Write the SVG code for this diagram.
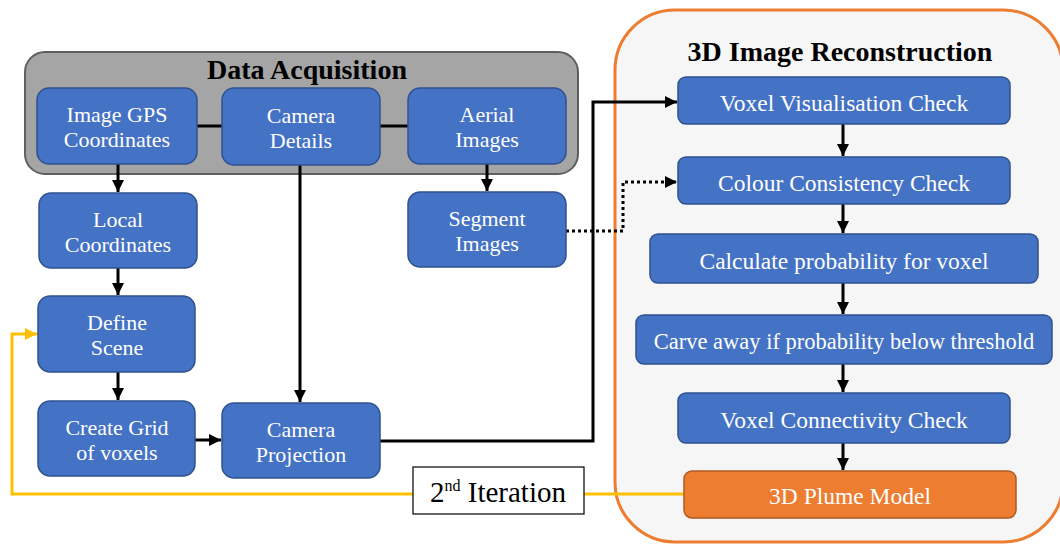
<svg xmlns="http://www.w3.org/2000/svg" width="1060" height="544" viewBox="0 0 1060 544">
<style>
.box{fill:#4472c4;stroke:#2f528f;stroke-width:1.5}
.obox{fill:#ed7d31;stroke:#ae5a21;stroke-width:1.5}
.t{font-family:'Liberation Serif','Times New Roman',serif;font-size:22px;fill:#fff;text-anchor:middle}
.r{font-size:23.5px}
.title{font-family:'Liberation Serif','Times New Roman',serif;font-size:28px;font-weight:bold;fill:#000;text-anchor:middle}
.it{font-family:'Liberation Serif','Times New Roman',serif;font-size:29px;fill:#000;text-anchor:middle}
.ln{fill:none;stroke:#000;stroke-width:3}
.dot{fill:none;stroke:#000;stroke-width:3;stroke-dasharray:3 3}
.yl{fill:none;stroke:#ffc000;stroke-width:3}
</style>
<defs>
<marker id="ah" viewBox="0 0 10 10" refX="10" refY="5" markerWidth="4" markerHeight="4" orient="auto"><path d="M0,0 L10,5 L0,10 z" fill="#000"/></marker>
<marker id="ay" viewBox="0 0 10 10" refX="10" refY="5" markerWidth="4" markerHeight="4" orient="auto"><path d="M0,0 L10,5 L0,10 z" fill="#ffc000"/></marker>
</defs>
<rect width="1060" height="544" fill="#fff"/>
<g id="reconstruction-group">
<rect x="615" y="10" width="448" height="532" rx="60" fill="#f6f6f6" stroke="#ed7d31" stroke-width="3"/>
<text class="title" x="840" y="61">3D Image Reconstruction</text>
</g>
<g id="acquisition-group">
<rect x="25" y="52" width="553" height="122" rx="20" fill="#a5a5a5" stroke="#5f5f5f" stroke-width="2"/>
<text class="title" x="307" y="79">Data Acquisition</text>
</g>
<g id="connectors">
<line class="ln" x1="197" y1="126" x2="222" y2="126"/>
<line class="ln" x1="380" y1="126" x2="408" y2="126"/>
<line class="ln" x1="118" y1="164" x2="118" y2="192" marker-end="url(#ah)"/>
<line class="ln" x1="118" y1="268" x2="118" y2="295" marker-end="url(#ah)"/>
<line class="ln" x1="118" y1="372" x2="118" y2="400" marker-end="url(#ah)"/>
<line class="ln" x1="195" y1="440" x2="221" y2="440" marker-end="url(#ah)"/>
<line class="ln" x1="300" y1="165" x2="300" y2="402" marker-end="url(#ah)"/>
<line class="ln" x1="487" y1="164" x2="487" y2="191" marker-end="url(#ah)"/>
<path class="ln" d="M380,441 H593 V102 H677" marker-end="url(#ah)"/>
<path class="dot" d="M566,231 H623 V182 H677" marker-end="url(#ah)"/>
<line class="ln" x1="843" y1="124" x2="843" y2="156" marker-end="url(#ah)"/>
<line class="ln" x1="843" y1="204" x2="843" y2="233" marker-end="url(#ah)"/>
<line class="ln" x1="843" y1="283" x2="843" y2="314" marker-end="url(#ah)"/>
<line class="ln" x1="843" y1="364" x2="843" y2="392" marker-end="url(#ah)"/>
<line class="ln" x1="843" y1="443" x2="843" y2="470" marker-end="url(#ah)"/>
<path class="yl" d="M684,494 H12 V334 H37" marker-end="url(#ay)"/>
</g>
<g id="image-gps"><rect class="box" x="37" y="88" width="160" height="76" rx="12"/><text class="t" x="117" y="122">Image GPS</text><text class="t" x="117" y="147">Coordinates</text></g>
<g id="camera-details"><rect class="box" x="222" y="88" width="158" height="77" rx="12"/><text class="t" x="301" y="123">Camera</text><text class="t" x="301" y="148">Details</text></g>
<g id="aerial-images"><rect class="box" x="408" y="88" width="158" height="76" rx="12"/><text class="t" x="487" y="122">Aerial</text><text class="t" x="487" y="147">Images</text></g>
<g id="local-coordinates"><rect class="box" x="39" y="193" width="158" height="75" rx="12"/><text class="t" x="118" y="227">Local</text><text class="t" x="118" y="252">Coordinates</text></g>
<g id="segment-images"><rect class="box" x="408" y="192" width="158" height="75" rx="12"/><text class="t" x="487" y="226">Segment</text><text class="t" x="487" y="251">Images</text></g>
<g id="define-scene"><rect class="box" x="38" y="296" width="157" height="76" rx="12"/><text class="t" x="117" y="330">Define</text><text class="t" x="117" y="355">Scene</text></g>
<g id="create-grid"><rect class="box" x="38" y="401" width="157" height="75" rx="12"/><text class="t" x="117" y="435">Create Grid</text><text class="t" x="117" y="460">of voxels</text></g>
<g id="camera-projection"><rect class="box" x="222" y="403" width="158" height="75" rx="12"/><text class="t" x="301" y="437">Camera</text><text class="t" x="301" y="462">Projection</text></g>
<g id="voxel-visualisation"><rect class="box" x="678" y="77" width="332" height="47" rx="8"/><text class="t r" x="844" y="111">Voxel Visualisation Check</text></g>
<g id="colour-consistency"><rect class="box" x="678" y="157" width="332" height="47" rx="8"/><text class="t r" x="844" y="191">Colour Consistency Check</text></g>
<g id="calculate-probability"><rect class="box" x="650" y="234" width="388" height="49" rx="8"/><text class="t r" x="844" y="269">Calculate probability for voxel</text></g>
<g id="carve-away"><rect class="box" x="636" y="315" width="416" height="49" rx="8"/><text class="t" x="844" y="349" style="font-size:22.5px">Carve away if probability below threshold</text></g>
<g id="voxel-connectivity"><rect class="box" x="678" y="393" width="332" height="50" rx="8"/><text class="t r" x="844" y="428">Voxel Connectivity Check</text></g>
<g id="plume-model"><rect class="obox" x="684" y="471" width="332" height="47" rx="8"/><text class="t r" x="850" y="504">3D Plume Model</text></g>
<g id="iteration-label"><rect x="413" y="467" width="171" height="47" fill="#fff" stroke="#000" stroke-width="1.2"/><text class="it" x="498" y="502">2<tspan font-size="16" dy="-11">nd</tspan><tspan dy="11"> Iteration</tspan></text></g>
</svg>
